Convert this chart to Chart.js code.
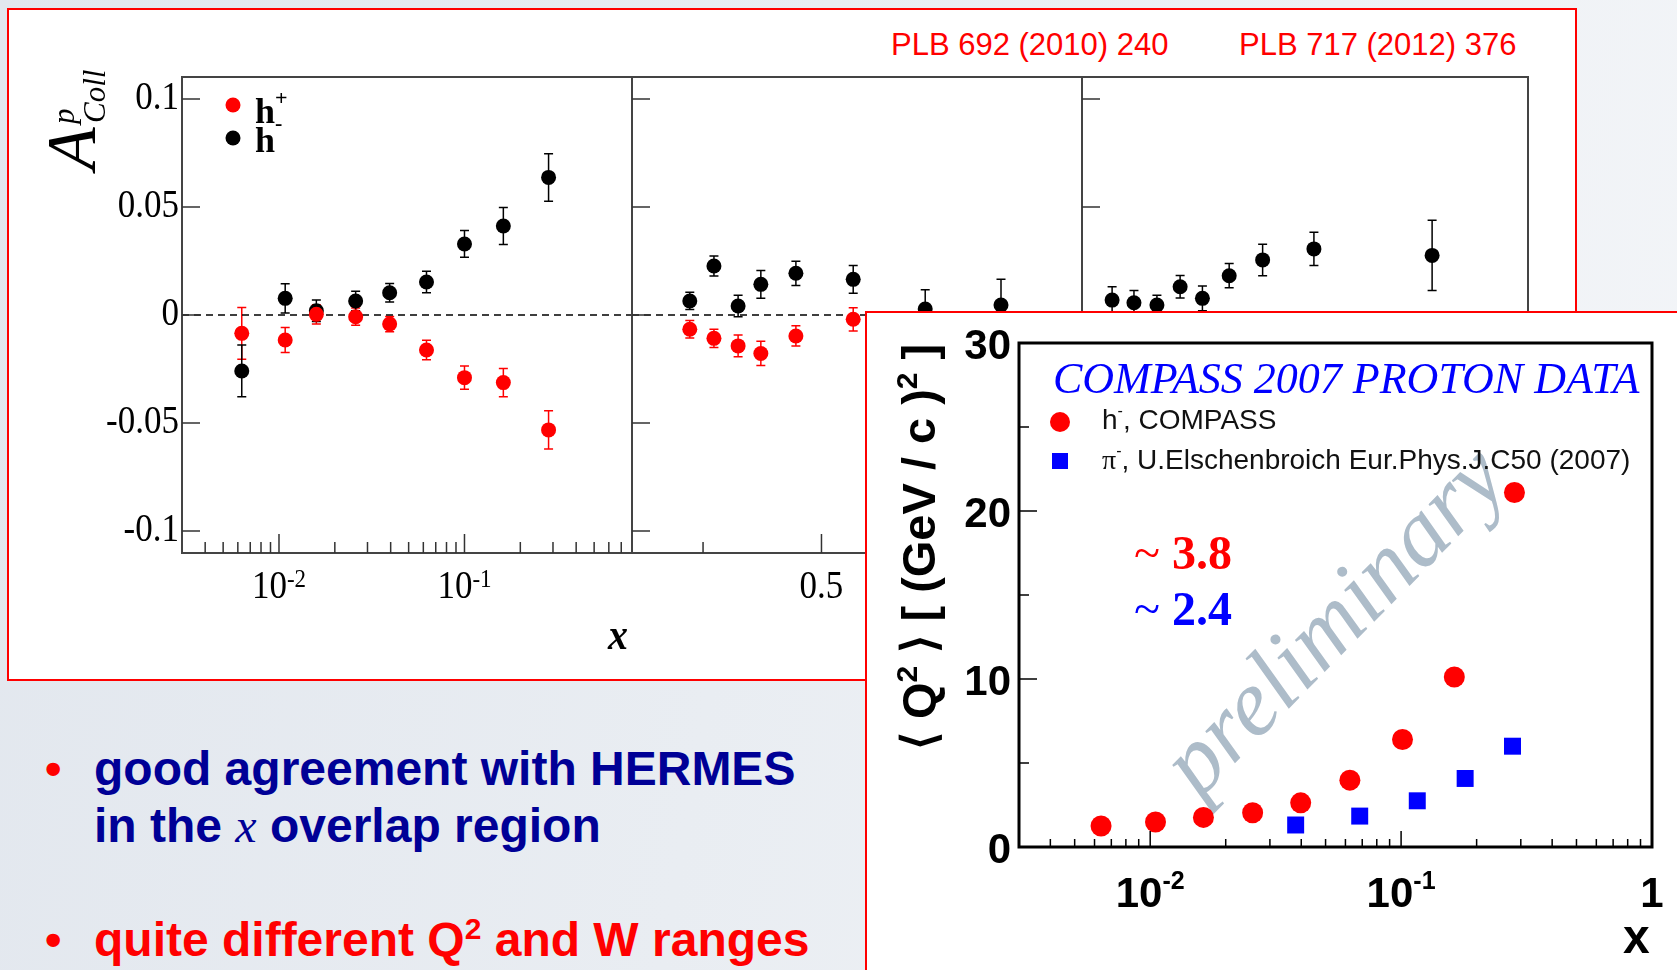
<!DOCTYPE html>
<html>
<head>
<meta charset="utf-8">
<title>Collins asymmetry and Q2 vs x</title>
<script src="https://cdn.jsdelivr.net/npm/chart.js@4.4.1/dist/chart.umd.min.js"></script>
<style>
  html, body { margin: 0; padding: 0; }
  body {
    position: relative; width: 1677px; height: 970px; overflow: hidden;
    background: linear-gradient(100deg, #e2e7ee 0%, #e9edf2 45%, #f3f5f8 100%);
    font-family: "Liberation Sans", Arial, sans-serif;
  }
  .frame { position: absolute; background: #fff; border: 2px solid #ff0000; box-sizing: border-box; }
  #asymBox { left: 7px; top: 8px; width: 1570px; height: 673px; z-index: 1; }
  #q2Box { left: 865px; top: 311px; width: 830px; height: 700px; z-index: 3; }
  canvas { position: absolute; left: 0; top: 0; }
  .ref { position: absolute; top: 29px; z-index: 2; color: #ff0000; font-size: 31px; line-height: 31px; white-space: nowrap; }
  .line { position: absolute; left: 94px; font-weight: bold; font-size: 48px; line-height: 48px; white-space: nowrap; z-index: 1; }
  .dot { position: absolute; left: 45px; color: #ff0000; font-weight: bold; font-size: 47px; line-height: 48px; z-index: 1; }
  .blue { color: #000096; }
  .red { color: #ff0000; }
  .it { font-family: "Liberation Serif", "Times New Roman", serif; font-style: italic; font-weight: normal; }
  .sup { font-size: 30px; position: relative; top: -17px; }
</style>
</head>
<body>
<div id="asymBox" class="frame"></div>
<div class="ref" style="left:891px">PLB 692 (2010) 240</div>
<div class="ref" style="left:1239px">PLB 717 (2012) 376</div>
<canvas id="asymX" width="1677" height="970" style="z-index:2"></canvas>
<canvas id="asymZ" width="1677" height="970" style="z-index:2"></canvas>
<canvas id="asymPt" width="1677" height="970" style="z-index:2"></canvas>

<div class="dot" style="top:745px">•</div>
<div class="line blue" style="top:745px">good agreement with HERMES</div>
<div class="line blue" style="top:802px">in the <span class="it">x</span> overlap region</div>
<div class="dot" style="top:916px">•</div>
<div class="line red" style="top:916px">quite different Q<span class="sup">2</span> and W ranges</div>

<div id="q2Box" class="frame"></div>
<canvas id="q2" width="1677" height="970" style="z-index:4"></canvas>

<script>
// Collins asymmetry on the proton, binned in x, z and pT
const xBins = [0.0063, 0.0108, 0.0159, 0.0259, 0.0395, 0.0624, 0.100, 0.162, 0.284];
const hPosX = [-0.0085, -0.0116, 0.0003, -0.0008, -0.0042, -0.0162, -0.0290, -0.0313, -0.0532];
const hPosXErr = [0.012, 0.0058, 0.0045, 0.0040, 0.0035, 0.0045, 0.0054, 0.0065, 0.0089];
const hNegX = [-0.0259, 0.0077, 0.0020, 0.0065, 0.0103, 0.0153, 0.0329, 0.0412, 0.0637];
const hNegXErr = [0.012, 0.0068, 0.0050, 0.0045, 0.0043, 0.0050, 0.0062, 0.0086, 0.011];

const zBins = [0.222, 0.273, 0.324, 0.372, 0.446, 0.567, 0.719, 0.879];
const hPosZ = [-0.0066, -0.0108, -0.0143, -0.0178, -0.0097, -0.0020];
const hPosZErr = [0.0040, 0.0042, 0.0050, 0.0056, 0.0047, 0.0054];
const hNegZ = [0.0065, 0.0227, 0.0042, 0.0142, 0.0193, 0.0165, 0.0028, 0.0046];
const hNegZErr = [0.0040, 0.0046, 0.0050, 0.0064, 0.0056, 0.0064, 0.0089, 0.0119];

const ptBins = [0.135, 0.233, 0.336, 0.44, 0.54, 0.66, 0.81, 1.04, 1.57];
const hNegPt = [0.0069, 0.0057, 0.0046, 0.0131, 0.0077, 0.0182, 0.0255, 0.0306, 0.0276];
const hNegPtErr = [0.0062, 0.0056, 0.0046, 0.0052, 0.0057, 0.0056, 0.0073, 0.0077, 0.0163];

const asymTicks = [-0.1, -0.05, 0, 0.05, 0.1];
const asymTickLabels = ['-0.1', '-0.05', '0', '0.05', '0.1'];
const xMajor = [0.01, 0.1];
const xMajorLabels = [['10', '-2'], ['10', '-1']];
const xMinor = [0.004, 0.005, 0.006, 0.007, 0.008, 0.009, 0.02, 0.03, 0.04, 0.05, 0.06, 0.07, 0.08, 0.09, 0.2, 0.3, 0.4, 0.5, 0.6, 0.7];
const zMajor = [0.5, 1];
const zMajorLabels = [['0.5', ''], ['1', '']];
const zMinor = [0.25, 0.75];
const ptMajor = [0.5, 1, 1.5];
const ptMajorLabels = [['0.5', ''], ['1', ''], ['1.5', '']];
const ptMinor = [0.25, 0.75, 1.25, 1.75];

// mean Q2 per x bin: COMPASS h- and HERMES pi-
const q2xCompass = [0.00637, 0.0105, 0.0163, 0.0256, 0.0398, 0.0625, 0.1013, 0.163, 0.283];
const q2Compass = [1.25, 1.49, 1.76, 2.04, 2.63, 3.98, 6.4, 10.12, 21.1];
const q2xHermes = [0.038, 0.0684, 0.116, 0.18, 0.278];
const q2Hermes = [1.31, 1.84, 2.75, 4.08, 6.0];
const q2Ticks = [0, 10, 20, 30];
const q2TickLabels = ['0', '10', '20', '30'];
const q2MinorTicks = [5, 15, 25];
const q2xMajor = [0.01, 0.1, 1];
const q2xMajorLabels = [['10', '-2'], ['10', '-1'], ['1', '']];
const q2xMinor = [0.004, 0.005, 0.006, 0.007, 0.008, 0.009, 0.02, 0.03, 0.04, 0.05, 0.06, 0.07, 0.08, 0.09, 0.2, 0.3, 0.4, 0.5, 0.6, 0.7, 0.8, 0.9];

const SERIF = '"Liberation Serif", "Times New Roman", serif';
const SANS = '"Liberation Sans", Arial, sans-serif';
const STRETCH = 1.12; // ROOT canvas came out a bit taller than wide
const W = 1677, H = 970;

function points(xs, ys, errs) {
  return ys.map((y, i) => ({ x: xs[i], y, e: errs ? errs[i] : 0 }));
}

// text with a small raised part (10^-2, h^+ ...), centred or left aligned
function richText(ctx, parts, x, y, align) {
  let total = 0;
  parts.forEach(p => { ctx.font = p.font; p.w = ctx.measureText(p.t).width; total += p.w; });
  let cx = align === 'center' ? x - total / 2 : (align === 'right' ? x - total : x);
  ctx.textAlign = 'left';
  ctx.textBaseline = 'alphabetic';
  parts.forEach(p => {
    ctx.font = p.font;
    if (p.color) ctx.fillStyle = p.color;
    ctx.fillText(p.t, cx, y - (p.rise || 0));
    cx += p.w;
  });
  return total;
}

const errorBars = {
  id: 'errorBars',
  beforeDatasetsDraw(chart) {
    const { ctx } = chart;
    const ys = chart.scales.y;
    chart.data.datasets.forEach((ds, di) => {
      if (!ds.errorCap) return;
      const meta = chart.getDatasetMeta(di);
      ctx.save();
      ctx.strokeStyle = ds.backgroundColor;
      ctx.lineWidth = 1.5;
      ctx.beginPath();
      meta.data.forEach((el, i) => {
        const p = ds.data[i];
        const top = ys.getPixelForValue(p.y + p.e);
        const bot = ys.getPixelForValue(p.y - p.e);
        ctx.moveTo(el.x, top); ctx.lineTo(el.x, bot);
        ctx.moveTo(el.x - ds.errorCap, top); ctx.lineTo(el.x + ds.errorCap, top);
        ctx.moveTo(el.x - ds.errorCap, bot); ctx.lineTo(el.x + ds.errorCap, bot);
      });
      ctx.stroke();
      ctx.restore();
    });
  }
};

function asymAxes(cfg) {
  return {
    id: 'asymAxes',
    beforeDatasetsDraw(chart) {
      const { ctx, chartArea: a } = chart;
      const y0 = chart.scales.y.getPixelForValue(0);
      ctx.save();
      ctx.strokeStyle = '#000';
      ctx.lineWidth = 1.3;
      ctx.setLineDash([7, 5]);
      ctx.beginPath();
      ctx.moveTo(a.left, y0); ctx.lineTo(a.right, y0);
      ctx.stroke();
      ctx.restore();
    },
    afterDraw(chart) {
      const { ctx, chartArea: a } = chart;
      const xs = chart.scales.x, ys = chart.scales.y;
      ctx.save();
      ctx.strokeStyle = '#444';
      ctx.lineWidth = 2;
      ctx.strokeRect(a.left, a.top, a.right - a.left, a.bottom - a.top);
      ctx.strokeStyle = '#333';
      ctx.lineWidth = 1.5;
      ctx.beginPath();
      asymTicks.forEach(v => {
        const py = ys.getPixelForValue(v);
        ctx.moveTo(a.left, py); ctx.lineTo(a.left + 18, py);
      });
      cfg.major.forEach(v => {
        const px = xs.getPixelForValue(v);
        ctx.moveTo(px, a.bottom); ctx.lineTo(px, a.bottom - 19);
      });
      cfg.minor.forEach(v => {
        const px = xs.getPixelForValue(v);
        ctx.moveTo(px, a.bottom); ctx.lineTo(px, a.bottom - 11);
      });
      ctx.stroke();

      ctx.fillStyle = '#000';
      cfg.major.forEach((v, i) => {
        const px = xs.getPixelForValue(v);
        const lab = cfg.majorLabels[i];
        ctx.save();
        ctx.translate(px, a.bottom + 45);
        ctx.scale(1, STRETCH);
        richText(ctx, [
          { t: lab[0], font: '35px ' + SERIF },
          { t: lab[1], font: '23px ' + SERIF, rise: 10 }
        ], 0, 0, 'center');
        ctx.restore();
      });

      if (cfg.first) {
        asymTicks.forEach((v, i) => {
          const py = ys.getPixelForValue(v);
          ctx.save();
          ctx.translate(a.left - 3, py);
          ctx.scale(1, STRETCH);
          ctx.font = '35px ' + SERIF;
          ctx.textAlign = 'right';
          ctx.textBaseline = 'middle';
          ctx.fillText(asymTickLabels[i], 0, 0);
          ctx.restore();
        });

        // x axis title
        ctx.save();
        ctx.translate(a.left + 426, a.bottom + 96);
        ctx.scale(1, STRETCH);
        ctx.font = 'italic bold 40px ' + SERIF;
        ctx.textAlign = 'left';
        ctx.fillText('x', 0, 0);
        ctx.restore();

        // y axis title A^p_Coll
        ctx.save();
        ctx.translate(a.left - 87, a.top + 93);
        ctx.rotate(-Math.PI / 2);
        ctx.textAlign = 'left';
        ctx.textBaseline = 'alphabetic';
        ctx.font = 'italic 70px ' + SERIF;
        ctx.fillText('A', 0, 0);
        ctx.font = 'italic 31px ' + SERIF;
        ctx.fillText('p', 46, -21);
        ctx.fillText('Coll', 47, 10);
        ctx.restore();

        // legend
        const lx = a.left + 51;
        [['+', '#ff0000', a.top + 28, 123], ['-', '#000', a.top + 61, 152]].forEach(([sign, col, my, base]) => {
          ctx.fillStyle = col;
          ctx.beginPath();
          ctx.arc(lx, my, 7.5, 0, Math.PI * 2);
          ctx.fill();
          ctx.fillStyle = '#000';
          richText(ctx, [
            { t: 'h', font: 'bold 36px ' + SERIF },
            { t: sign, font: 'bold 22px ' + SERIF, rise: sign === '+' ? 18 : 22 }
          ], a.left + 73, base, 'left');
        });
      }
      ctx.restore();
    }
  };
}

function asymPanel(id, area, xScale, datasets, cfg) {
  return new Chart(document.getElementById(id), {
    type: 'scatter',
    data: { datasets },
    options: {
      responsive: false,
      animation: false,
      events: [],
      layout: { padding: { left: area[0], top: area[1], right: W - area[2], bottom: H - area[3] } },
      plugins: { legend: { display: false }, tooltip: { enabled: false } },
      scales: {
        x: Object.assign({ display: false }, xScale),
        y: { type: 'linear', min: -0.1102, max: 0.1102, display: false }
      }
    },
    plugins: [errorBars, asymAxes(cfg)]
  });
}

function hSet(label, color, pts) {
  return {
    label, data: pts, backgroundColor: color, borderWidth: 0,
    pointRadius: 7.5, pointStyle: 'circle', errorCap: 4.5
  };
}

asymPanel('asymX', [182, 77, 632, 553], { type: 'logarithmic', min: 0.003, max: 0.8 }, [
  hSet('h+', '#ff0000', points(xBins, hPosX, hPosXErr)),
  hSet('h-', '#000000', points(xBins, hNegX, hNegXErr))
], { first: true, major: xMajor, majorLabels: xMajorLabels, minor: xMinor });

asymPanel('asymZ', [632, 77, 1082, 553], { type: 'linear', min: 0.1, max: 1.05 }, [
  hSet('h+', '#ff0000', points(zBins, hPosZ, hPosZErr)),
  hSet('h-', '#000000', points(zBins, hNegZ, hNegZErr))
], { first: false, major: zMajor, majorLabels: zMajorLabels, minor: zMinor });

asymPanel('asymPt', [1082, 77, 1528, 553], { type: 'linear', min: 0, max: 2 }, [
  hSet('h-', '#000000', points(ptBins, hNegPt, hNegPtErr))
], { first: false, major: ptMajor, majorLabels: ptMajorLabels, minor: ptMinor });

// <Q2> versus x
const q2Axes = {
  id: 'q2Axes',
  beforeDatasetsDraw(chart) {
    const { ctx, chartArea: a } = chart;
    ctx.save();
    ctx.translate(a.left + 180, a.top + 457);
    ctx.rotate(-45.5 * Math.PI / 180);
    ctx.font = 'italic 95px ' + SERIF;
    ctx.fillStyle = '#adbcc9';
    ctx.textAlign = 'left';
    ctx.fillText('preliminary', 0, 0);
    ctx.restore();
  },
  afterDraw(chart) {
    const { ctx, chartArea: a } = chart;
    const xs = chart.scales.x, ys = chart.scales.y;
    ctx.save();
    ctx.strokeStyle = '#000';
    ctx.lineWidth = 3;
    ctx.strokeRect(a.left, a.top, a.right - a.left, a.bottom - a.top);
    ctx.lineWidth = 1.5;
    ctx.beginPath();
    q2Ticks.forEach(v => {
      const py = ys.getPixelForValue(v);
      ctx.moveTo(a.left, py); ctx.lineTo(a.left + 18, py);
    });
    q2MinorTicks.forEach(v => {
      const py = ys.getPixelForValue(v);
      ctx.moveTo(a.left, py); ctx.lineTo(a.left + 10, py);
    });
    q2xMajor.forEach(v => {
      const px = xs.getPixelForValue(v);
      ctx.moveTo(px, a.bottom); ctx.lineTo(px, a.bottom - 16);
    });
    q2xMinor.forEach(v => {
      const px = xs.getPixelForValue(v);
      ctx.moveTo(px, a.bottom); ctx.lineTo(px, a.bottom - 8);
    });
    ctx.stroke();

    ctx.fillStyle = '#000';
    ctx.font = 'bold 42px ' + SANS;
    ctx.textAlign = 'right';
    ctx.textBaseline = 'middle';
    q2Ticks.forEach((v, i) => ctx.fillText(q2TickLabels[i], a.left - 8, ys.getPixelForValue(v) + 4));

    q2xMajor.forEach((v, i) => {
      const lab = q2xMajorLabels[i];
      richText(ctx, [
        { t: lab[0], font: 'bold 42px ' + SANS },
        { t: lab[1], font: 'bold 25px ' + SANS, rise: 18 }
      ], xs.getPixelForValue(v), a.bottom + 60, 'center');
    });

    ctx.font = 'bold 48px ' + SANS;
    ctx.textAlign = 'left';
    ctx.textBaseline = 'alphabetic';
    ctx.fillText('x', a.right - 29, a.bottom + 106);

    // y axis title
    ctx.save();
    ctx.translate(a.left - 84, a.bottom - 97);
    ctx.rotate(-Math.PI / 2);
    richText(ctx, [
      { t: '⟨ Q', font: 'bold 47px ' + SANS },
      { t: '2', font: 'bold 30px ' + SANS, rise: 18 },
      { t: ' ⟩ [ (GeV / c )', font: 'bold 47px ' + SANS },
      { t: '2', font: 'bold 30px ' + SANS, rise: 18 },
      { t: ' ]', font: 'bold 47px ' + SANS }
    ], 0, 0, 'left');
    ctx.restore();

    // legend block
    ctx.fillStyle = '#0000ff';
    ctx.font = 'italic 44px ' + SERIF;
    ctx.fillText('COMPASS 2007 PROTON DATA', a.left + 34, a.top + 50);

    ctx.fillStyle = '#ff0000';
    ctx.beginPath();
    ctx.arc(a.left + 41, a.top + 79, 10, 0, Math.PI * 2);
    ctx.fill();
    ctx.fillStyle = '#0000ff';
    ctx.fillRect(a.left + 33, a.top + 110, 16, 16);

    ctx.fillStyle = '#111';
    richText(ctx, [
      { t: 'h', font: '28px ' + SANS },
      { t: '-', font: '16px ' + SANS, rise: 13 },
      { t: ', COMPASS', font: '28px ' + SANS }
    ], a.left + 83, a.top + 86, 'left');
    richText(ctx, [
      { t: 'π', font: '28px ' + SERIF },
      { t: '-', font: '16px ' + SANS, rise: 13 },
      { t: ', U.Elschenbroich Eur.Phys.J.C50 (2007)', font: '28px ' + SANS }
    ], a.left + 83, a.top + 126, 'left');

    // slope of <Q2> with x
    richText(ctx, [
      { t: '~', font: '48px ' + SERIF, color: '#ff0000' },
      { t: ' 3.8', font: 'bold 48px ' + SERIF }
    ], a.left + 115, a.top + 226, 'left');
    richText(ctx, [
      { t: '~', font: '48px ' + SERIF, color: '#0000ff' },
      { t: ' 2.4', font: 'bold 48px ' + SERIF }
    ], a.left + 115, a.top + 282, 'left');
    ctx.restore();
  }
};

new Chart(document.getElementById('q2'), {
  type: 'scatter',
  data: {
    datasets: [
      {
        label: 'h-, COMPASS', data: points(q2xCompass, q2Compass),
        backgroundColor: '#ff0000', borderWidth: 0, pointRadius: 10.5, pointStyle: 'circle'
      },
      {
        label: 'pi-, HERMES', data: points(q2xHermes, q2Hermes),
        backgroundColor: '#0000ff', borderWidth: 0, pointRadius: 12, pointStyle: 'rect'
      }
    ]
  },
  options: {
    responsive: false,
    animation: false,
    events: [],
    layout: { padding: { left: 1019, top: 343, right: W - 1652, bottom: H - 847 } },
    plugins: { legend: { display: false }, tooltip: { enabled: false } },
    scales: {
      x: { type: 'logarithmic', min: 0.003, max: 1, display: false },
      y: { type: 'linear', min: 0, max: 30, display: false }
    }
  },
  plugins: [q2Axes]
});
</script>
</body>
</html>
